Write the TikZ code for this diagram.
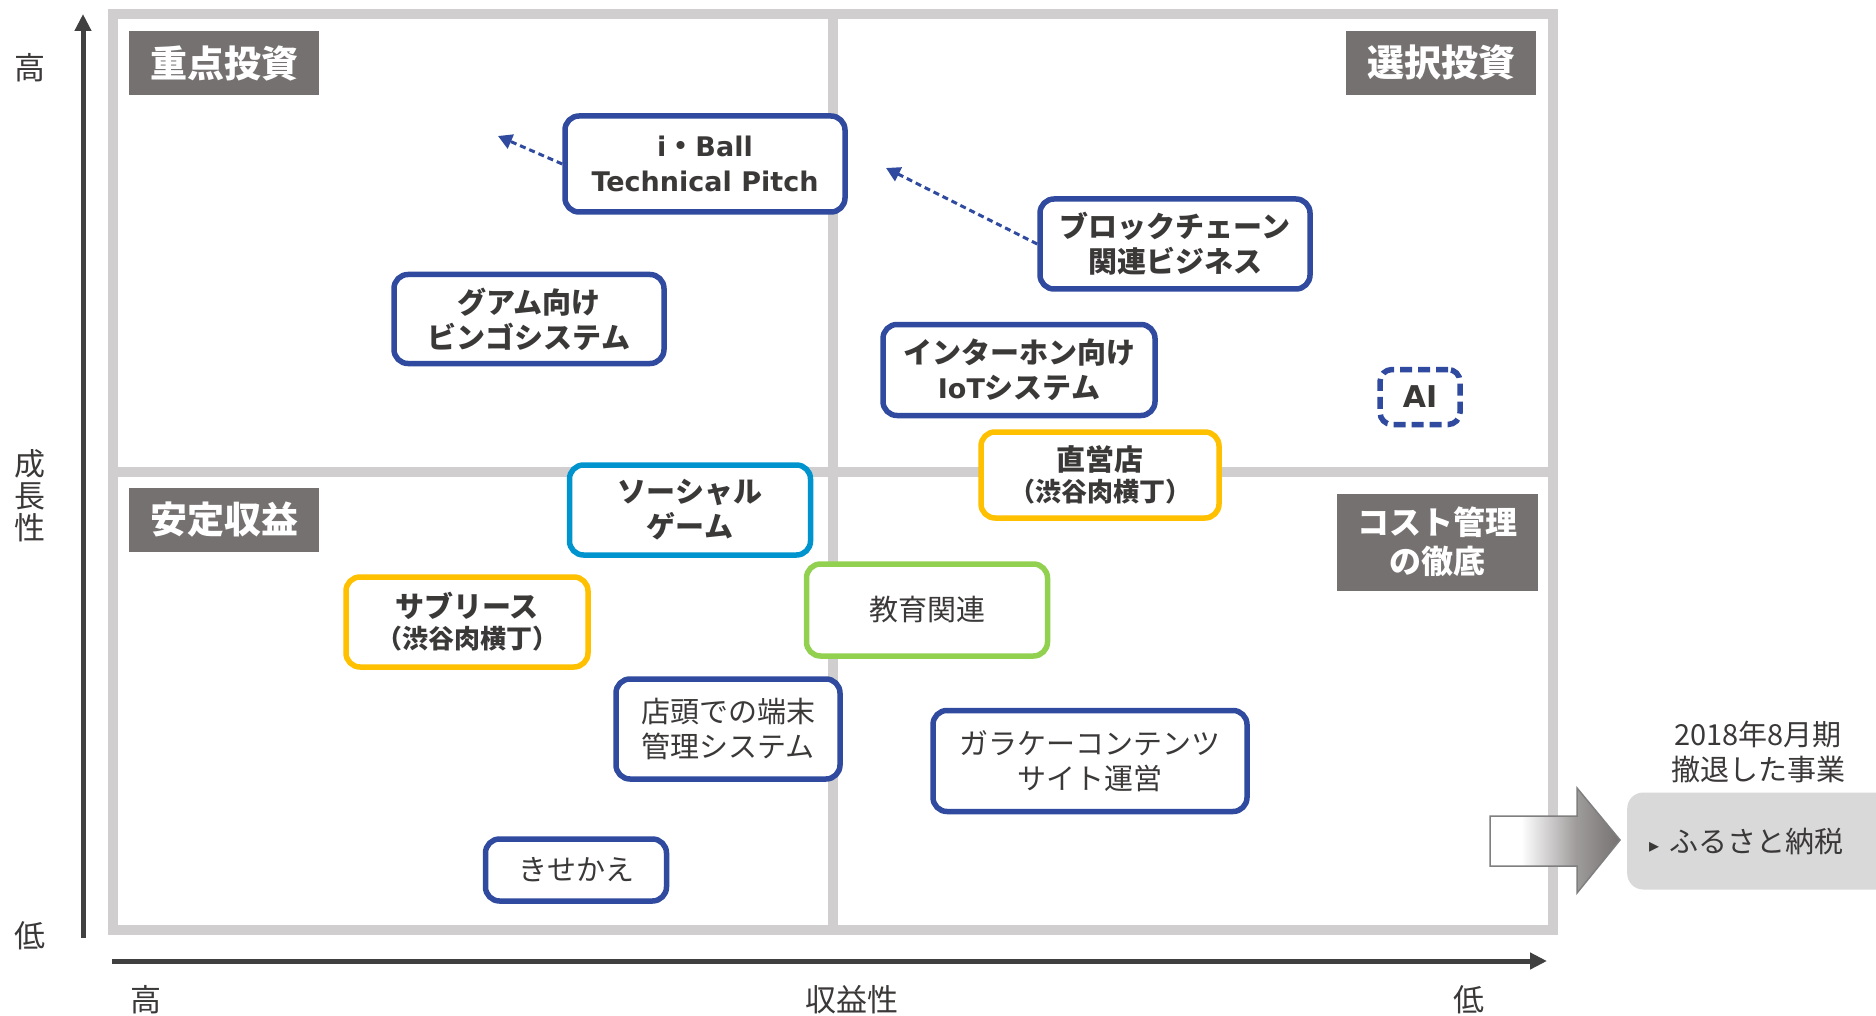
\documentclass[tikz,border=0pt]{standalone}
\usepackage{fontspec}
\setmainfont{Noto Sans CJK JP}
\newfontfamily\latfont{DejaVu Sans}
\usetikzlibrary{arrows.meta}

\definecolor{framegray}{RGB}{208,206,206}
\definecolor{labelgray}{RGB}{118,113,113}
\definecolor{axisgray}{RGB}{64,64,64}
\definecolor{textgray}{RGB}{59,56,56}
\definecolor{boxblue}{RGB}{47,74,158}
\definecolor{boxcyan}{RGB}{0,148,206}
\definecolor{boxyellow}{RGB}{255,192,0}
\definecolor{boxgreen}{RGB}{146,208,80}
\definecolor{exitgray}{RGB}{217,217,217}
\definecolor{exitdark}{RGB}{118,113,113}
\definecolor{arrowedge}{RGB}{127,127,127}

\pgfdeclarehorizontalshading{exitshade}{100bp}{color(0bp)=(white); color(37bp)=(white); color(58bp)=(exitdark!70); color(75bp)=(exitdark); color(100bp)=(exitdark)}

\newcommand{\lat}[1]{{\latfont\fontsize{27pt}{35pt}\selectfont #1}}

\begin{document}
\begin{tikzpicture}[x=1pt,y=-1pt,
  quadline/.style={draw=framegray,line width=10pt},
  axisline/.style={draw=axisgray,line width=5pt,-{Triangle[length=17pt,width=16pt]}},
  axislabel/.style={text=textgray,font=\fontsize{31pt}{32pt}\selectfont,inner sep=0pt,align=center},
  quadlabel/.style={fill=labelgray,text=white,font=\bfseries\fontsize{37pt}{39pt}\selectfont,
    minimum width=190pt,minimum height=64pt,inner sep=0pt,align=center},
  biz/.style={draw=boxblue,fill=white,line width=5.5pt,rounded corners=14pt,text=textgray,
    align=center,inner sep=0pt,font=\fontsize{29pt}{35pt}\selectfont},
  bizbold/.style={biz,font=\bfseries\fontsize{29pt}{35pt}\selectfont},
  movearrow/.style={draw=boxblue,line width=3pt,dash pattern=on 6pt off 4pt,
    -{Triangle[length=14pt,width=15pt]}},
  outtext/.style={text=textgray,font=\fontsize{29pt}{35pt}\selectfont,align=center,inner sep=0pt},
  exitbox/.style={fill=exitgray,rounded corners=16pt,minimum height=97pt,text width=229pt,
    inner xsep=22pt,inner ysep=0pt,align=left,text=textgray,font=\fontsize{29pt}{35pt}\selectfont}
]
  \useasboundingbox[fill=white] (0,0) rectangle (1876,1016);

  % Quadrants
  \draw[quadline] (112.5,14) rectangle (1553,930);
  \draw[quadline] (832.5,14) -- (832.5,930);
  \draw[quadline] (112.5,472) -- (1553,472);

  % Axes
  \coordinate (yfoot) at (83,938);
  \coordinate (ytop) at (83,14);
  \coordinate (xfoot) at (112,961);
  \coordinate (xtip) at (1547,961);
  \draw[axisline] (yfoot) -- (ytop);
  \draw[axisline] (xfoot) -- (xtip);
  \node[axislabel] (yhigh) at (30,68) {高};
  \node[axislabel] (yname) at (30,496) {成\\長\\性};
  \node[axislabel] (ylow) at (30,936) {低};
  \node[axislabel] (xhigh) at (146,1000) {高};
  \node[axislabel] (xname) at (852,1000) {収益性};
  \node[axislabel] (xlow) at (1469,1000) {低};

  % Quadrant labels
  \node[quadlabel] (focus) at (224,63) {重点投資};
  \node[quadlabel] (select) at (1441,63) {選択投資};
  \node[quadlabel] (stable) at (224,520) {安定収益};
  \node[quadlabel,minimum width=201pt,minimum height=97pt,
    font=\bfseries\fontsize{32pt}{39pt}\selectfont] (cost) at (1437,542) {コスト管理\\の徹底};

  % Businesses
  \node[bizbold,minimum width=280pt,minimum height=96pt] (iball) at (705,164)
    {\lat{i}・\lat{Ball}\\\lat{Technical Pitch}};
  \node[bizbold,minimum width=270pt,minimum height=89pt] (guam) at (529,319)
    {グアム向け\\ビンゴシステム};
  \node[bizbold,minimum width=270pt,minimum height=90pt] (chain) at (1175,244)
    {ブロックチェーン\\関連ビジネス};
  \node[bizbold,minimum width=272pt,minimum height=91pt] (iot) at (1019,370)
    {インターホン向け\\\lat{IoT}システム};
  \node[bizbold,dash pattern=on 12pt off 6pt,rounded corners=12pt,
    minimum width=80pt,minimum height=55pt] (ai) at (1420,397)
    {{\latfont\fontsize{30pt}{35pt}\selectfont AI}};
  \node[bizbold,draw=boxyellow,minimum width=238pt,minimum height=86pt] (direct) at (1100,475)
    {直営店\\[-4pt]{\fontsize{26pt}{30pt}\selectfont （渋谷肉横丁）}};
  \node[bizbold,draw=boxcyan,minimum width=241pt,minimum height=90pt] (social) at (690,510)
    {ソーシャル\\ゲーム};
  \node[bizbold,draw=boxyellow,minimum width=242pt,minimum height=90pt] (sublease) at (467,622)
    {サブリース\\[-4pt]{\fontsize{26pt}{30pt}\selectfont （渋谷肉横丁）}};
  \node[biz,draw=boxgreen,minimum width=241pt,minimum height=92pt] (edu) at (927,610)
    {教育関連};
  \node[biz,minimum width=224pt,minimum height=100pt] (shop) at (728,729)
    {店頭での端末\\管理システム};
  \node[biz,minimum width=314pt,minimum height=101pt] (garake) at (1090,761)
    {ガラケーコンテンツ\\サイト運営};
  \node[biz,minimum width=181pt,minimum height=62pt] (kise) at (576,870)
    {きせかえ};

  % Moves
  \coordinate (iballgoal) at (498,136);
  \coordinate (chaingoal) at (886,168);
  \draw[movearrow] (iball.west) -- (iballgoal);
  \draw[movearrow] (chain.west) -- (chaingoal);

  % Withdrawn business
  \shadedraw[shading=exitshade,draw=arrowedge,line width=1.5pt]
    (1490,816) -- (1577,816) -- (1577,788) -- (1620,840) -- (1577,893) -- (1577,866) -- (1490,866) -- cycle;
  \node[outtext] (exitnote) at (1758,752) {2018年8月期\\撤退した事業};
  \node[exitbox,anchor=west] (furusato) at (1627,841)
    {{\latfont\fontsize{20pt}{35pt}\selectfont ▸}\hspace{10pt}ふるさと納税};
\end{tikzpicture}
\end{document}
